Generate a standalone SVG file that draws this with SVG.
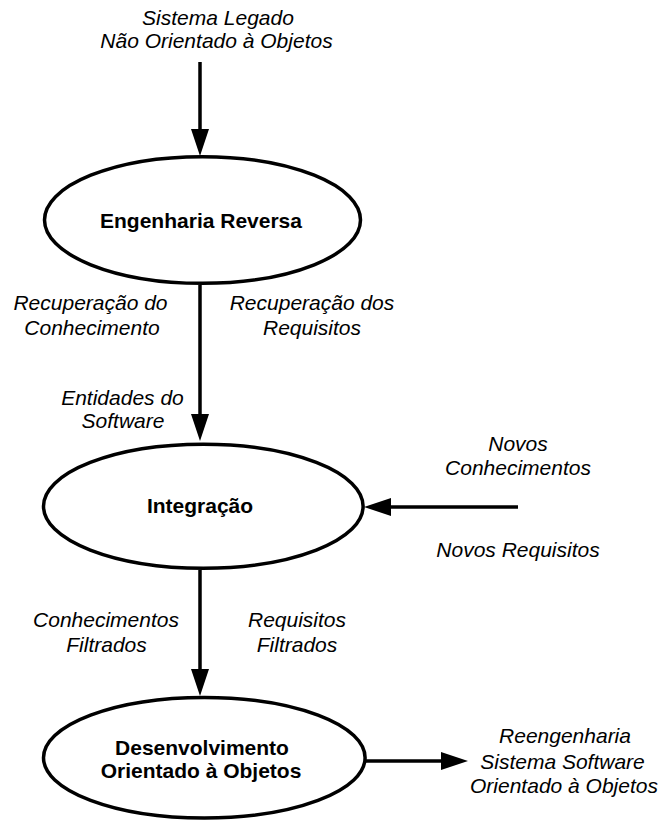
<svg xmlns="http://www.w3.org/2000/svg" width="661" height="823" viewBox="0 0 661 823">
<style>
  .node { fill: #ffffff; stroke: #000000; stroke-width: 3.5; }
  .title { font-family: "Liberation Sans", Arial, sans-serif; font-size: 21px; font-weight: bold; fill: #000000; text-anchor: middle; }
  .lbl { font-family: "Liberation Sans", Arial, sans-serif; font-size: 21px; font-style: italic; fill: #000000; text-anchor: middle; }
  .conn { stroke: #000000; stroke-width: 3.5; fill: none; marker-end: url(#arrow); }
</style>
<defs>
  <marker id="arrow" markerUnits="userSpaceOnUse" markerWidth="28" markerHeight="20" refX="0" refY="9.5" orient="auto" viewBox="0 0 28 20">
    <path d="M0,0.5 L27,9.5 L0,18.5 Z" fill="#000000"/>
  </marker>
</defs>
<rect width="661" height="823" fill="#ffffff"/>

<g id="connectors">
  <line class="conn" x1="200" y1="62" x2="200" y2="129"/>
  <line class="conn" x1="200" y1="285" x2="200" y2="414"/>
  <line class="conn" x1="200" y1="570" x2="200" y2="669"/>
  <line class="conn" x1="518" y1="507" x2="391" y2="507"/>
  <line class="conn" x1="365" y1="761" x2="441" y2="761"/>
</g>

<g id="node-engenharia-reversa">
  <ellipse class="node" cx="202.5" cy="220" rx="158" ry="63.3"/>
  <text class="title" x="201" y="228">Engenharia Reversa</text>
</g>

<g id="node-integracao">
  <ellipse class="node" cx="203.3" cy="506.3" rx="159.8" ry="62"/>
  <text class="title" x="200" y="513">Integração</text>
</g>

<g id="node-desenvolvimento">
  <ellipse class="node" cx="204.3" cy="757.7" rx="160.8" ry="60.3"/>
  <text class="title" x="202" y="755">Desenvolvimento</text>
  <text class="title" x="201" y="778">Orientado à Objetos</text>
</g>

<g id="labels">
  <text class="lbl" x="218" y="25">Sistema Legado</text>
  <text class="lbl" x="216.5" y="48">Não Orientado à Objetos</text>

  <text class="lbl" x="90.5" y="310">Recuperação do</text>
  <text class="lbl" x="92" y="335">Conhecimento</text>

  <text class="lbl" x="312" y="310">Recuperação dos</text>
  <text class="lbl" x="312" y="335">Requisitos</text>

  <text class="lbl" x="122.5" y="405">Entidades do</text>
  <text class="lbl" x="123" y="428">Software</text>

  <text class="lbl" x="518" y="451">Novos</text>
  <text class="lbl" x="518" y="475">Conhecimentos</text>
  <text class="lbl" x="518" y="557">Novos Requisitos</text>

  <text class="lbl" x="106" y="627">Conhecimentos</text>
  <text class="lbl" x="106.5" y="652">Filtrados</text>

  <text class="lbl" x="297" y="627">Requisitos</text>
  <text class="lbl" x="297" y="652">Filtrados</text>

  <text class="lbl" x="565" y="743">Reengenharia</text>
  <text class="lbl" x="562.5" y="769">Sistema Software</text>
  <text class="lbl" x="564" y="793">Orientado à Objetos</text>
</g>
</svg>
